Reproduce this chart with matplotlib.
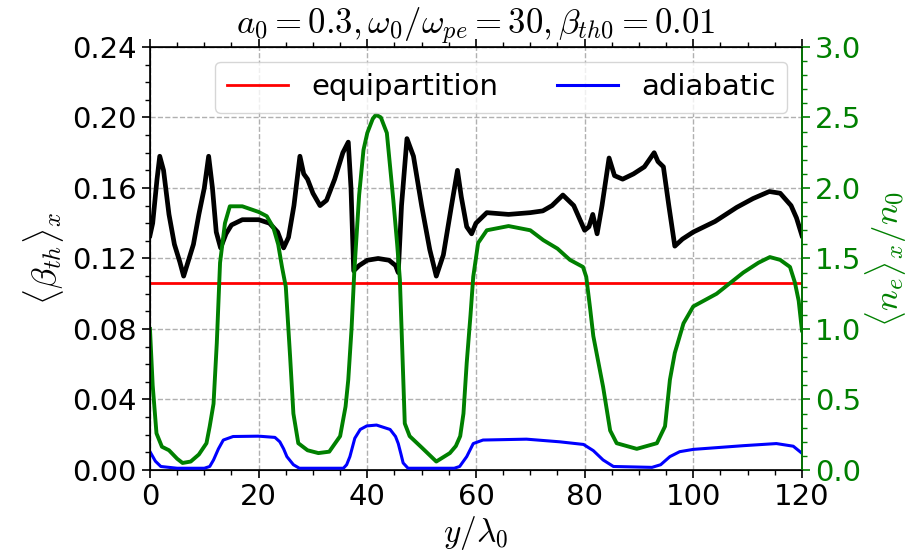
import numpy as np
import matplotlib
matplotlib.use("Agg")
import matplotlib.pyplot as plt
from matplotlib.ticker import MultipleLocator, FormatStrFormatter

plt.rcParams['mathtext.fontset'] = 'cm'
plt.rcParams['font.size'] = 21

# <beta_th>_x (black, left axis)
beta_y = [0, 0.5, 1.3, 1.8, 2.5, 3.5, 4.5, 5.5, 6.2, 7,
          8, 9, 10, 10.8, 11.5, 12.2, 13, 14, 15, 17,
          20, 22, 23.5, 24.6, 25.5, 26.5, 27.6, 28.3, 29, 30,
          31.3, 32.5, 34, 35.5, 36.5, 37, 37.5, 38.5, 40, 42,
          44, 45.2, 45.7, 46.3, 47.3, 48.5, 50, 51.5, 52.7, 54,
          55.5, 56.6, 57.3, 58.3, 59.2, 60, 62, 66, 70, 72.3,
          74, 76, 78, 80, 80.8, 81.5, 82.3, 83.2, 84.5, 85.5,
          87, 89, 91, 92.8, 93.5, 94.5, 95.5, 96.6, 98, 100,
          104, 108, 111, 114, 116, 118, 119, 120]
beta_th = [0.133, 0.140, 0.165, 0.178, 0.170, 0.145, 0.128, 0.118, 0.110, 0.118,
           0.128, 0.145, 0.160, 0.178, 0.160, 0.135, 0.126, 0.134, 0.139, 0.142,
           0.142, 0.140, 0.135, 0.126, 0.132, 0.150, 0.178, 0.168, 0.165, 0.157,
           0.150, 0.153, 0.165, 0.180, 0.186, 0.160, 0.113, 0.116, 0.119, 0.120,
           0.119, 0.116, 0.112, 0.150, 0.188, 0.178, 0.150, 0.125, 0.110, 0.122,
           0.150, 0.170, 0.155, 0.138, 0.134, 0.140, 0.146, 0.145, 0.146, 0.147,
           0.150, 0.156, 0.150, 0.136, 0.138, 0.145, 0.134, 0.150, 0.177, 0.167,
           0.165, 0.168, 0.172, 0.180, 0.175, 0.172, 0.150, 0.127, 0.131, 0.135,
           0.141, 0.149, 0.154, 0.158, 0.157, 0.150, 0.143, 0.133]

# equipartition level
beta_eq = 0.1063

# adiabatic (blue, left axis)
adi_y = [0, 1, 2, 5, 10, 11, 11.7, 12.6, 13.5, 15.3,
         20, 23, 23.9, 24.6, 25.2, 26.4, 27.5, 35.6, 36.2, 36.8,
         37.7, 38.7, 39.9, 41.7, 44.2, 45.2, 45.7, 46.2, 46.6, 47.5,
         56, 57, 58.3, 59.5, 61.3, 69.3, 75.4, 79.8, 81.6, 83.4,
         85.3, 92.4, 94, 95.7, 97.5, 100, 109.2, 115.3, 118.4, 120]
adiabatic = [0.0104, 0.005, 0.002, 0.001, 0.001, 0.002, 0.0057, 0.012, 0.017, 0.019,
             0.0192, 0.0185, 0.016, 0.012, 0.0076, 0.003, 0.001, 0.001, 0.003, 0.0076,
             0.018, 0.023, 0.025, 0.0255, 0.023, 0.019, 0.015, 0.009, 0.004, 0.001,
             0.001, 0.002, 0.0076, 0.015, 0.017, 0.0175, 0.016, 0.0145, 0.011, 0.0057,
             0.002, 0.0015, 0.003, 0.0076, 0.0104, 0.0117, 0.0138, 0.015, 0.0135, 0.0095]

# <n_e>_x / n_0 (green, right axis)
dens_y = [0, 0.5, 1.2, 2.2, 3.5, 5, 6, 7.5, 9, 10.4,
          11, 11.7, 12.3, 12.9, 13.8, 14.7, 17, 20, 21.5, 22.7,
          23.6, 24.3, 25, 25.8, 26.4, 27.3, 29, 31, 33, 35,
          36, 36.5, 37.1, 37.6, 38.5, 39.3, 40, 41, 41.6, 42.5,
          43.6, 44.8, 45.5, 46, 46.9, 47.8, 50, 52.7, 55.2, 56.3,
          57.1, 57.7, 58.3, 59, 59.5, 60.4, 62, 66, 70, 72.4,
          75, 77.3, 79.7, 80.3, 81, 81.6, 83.4, 84.7, 85.9, 89.6,
          93.3, 94.8, 95.7, 96.6, 98.2, 100, 104.3, 109.2, 112, 114.1,
          116, 117.8, 118.7, 119.4, 120]
density = [1.0, 0.60, 0.26, 0.165, 0.14, 0.08, 0.05, 0.06, 0.11, 0.19,
           0.31, 0.47, 0.90, 1.47, 1.75, 1.87, 1.87, 1.83, 1.80, 1.72,
           1.60, 1.44, 1.30, 0.80, 0.40, 0.19, 0.14, 0.12, 0.13, 0.24,
           0.45, 0.64, 1.0, 1.40, 1.95, 2.27, 2.39, 2.49, 2.52, 2.50,
           2.39, 1.91, 1.60, 1.35, 0.33, 0.24, 0.16, 0.06, 0.12, 0.17,
           0.24, 0.40, 0.76, 1.10, 1.37, 1.61, 1.70, 1.73, 1.70, 1.63,
           1.57, 1.49, 1.44, 1.37, 1.15, 0.95, 0.59, 0.28, 0.19, 0.15,
           0.19, 0.31, 0.64, 0.83, 1.04, 1.16, 1.25, 1.40, 1.47, 1.51,
           1.49, 1.44, 1.33, 1.20, 0.99]

green = 'green'

fig = plt.figure(figsize=(9.24, 5.59), dpi=100)
ax1 = fig.add_axes([0.1623, 0.1592, 0.7056, 0.7568])
ax2 = ax1.twinx()

ax1.plot(beta_y, beta_th, color='black', lw=3.4, zorder=3)
l_eq = ax1.axhline(beta_eq, color='red', lw=2, label='equipartition', zorder=2)
l_ad, = ax1.plot(adi_y, adiabatic, color='blue', lw=2.2, label='adiabatic', zorder=3)
ax2.plot(dens_y, density, color=green, lw=2.8)

ax1.set_xlim(0, 120)
ax1.set_ylim(0, 0.24)
ax2.set_ylim(0, 3.0)

ax1.xaxis.set_major_locator(MultipleLocator(20))
ax1.xaxis.set_minor_locator(MultipleLocator(5))
ax1.yaxis.set_major_locator(MultipleLocator(0.04))
ax1.yaxis.set_minor_locator(MultipleLocator(0.01))
ax1.yaxis.set_major_formatter(FormatStrFormatter('%.2f'))
ax2.yaxis.set_major_locator(MultipleLocator(0.5))
ax2.yaxis.set_minor_locator(MultipleLocator(0.1))
ax2.yaxis.set_major_formatter(FormatStrFormatter('%.1f'))

ax1.tick_params(which='both', direction='out', top=True, labelsize=21)
ax1.tick_params(which='major', length=6, width=1.2)
ax1.tick_params(which='minor', length=3.5, width=1)
ax2.tick_params(which='both', direction='out', colors=green, labelsize=21)
ax2.tick_params(which='major', length=6, width=1.2)
ax2.tick_params(which='minor', length=3.5, width=1)
ax2.spines['right'].set_color(green)
for sp in ax1.spines.values():
    sp.set_linewidth(1.2)
ax2.spines['right'].set_linewidth(1.2)

ax1.grid(True, which='major', color='#b0b0b0', linestyle='--', lw=1)

ax1.set_xlabel(r'$y/\lambda_0$', fontsize=24, labelpad=2)
ax1.set_ylabel(r'$\langle\beta_{th}\rangle_x$', fontsize=25, labelpad=4)
ax2.set_ylabel(r'$\langle n_e\rangle_x/n_0$', fontsize=25, color=green, labelpad=2)
ax1.set_title(r'$a_0=0.3, \omega_0/\omega_{pe}=30, \beta_{th0}=0.01$', fontsize=25, pad=3)

ax2.legend([l_eq, l_ad], ['equipartition', 'adiabatic'], loc='upper right',
           ncol=2, fontsize=21, handlelength=2.1, columnspacing=2.0)

fig.savefig('out.png', dpi=100)
